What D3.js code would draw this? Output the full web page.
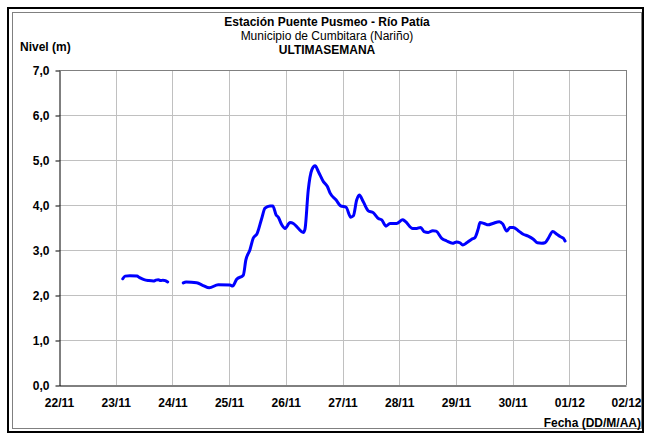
<!DOCTYPE html>
<html>
<head>
<meta charset="utf-8">
<style>
  body { margin: 0; background: #fff; }
  svg { display: block; font-family: "Liberation Sans", Arial, sans-serif; }
</style>
</head>
<body>
<svg width="648" height="434"></svg>
<script src="https://d3js.org/d3.v7.min.js"></script>
<script>

// horas desde el 22/11 00:00, nivel en metros (null = sin dato)
var horas = [27, 28, 30, 33, 34, 36, 38, 40, 41, 42, 43, 44, 45, 46,
  49,
  52.6, 53.8, 58.3, 61, 63.6, 67.4, 72.4, 73.5, 75.2, 78, 79.1, 80.8,
  82.2, 83.9, 85.8, 87.2, 89.3, 90.5, 91.9, 92.8, 94.3, 95.7, 97.8, 99.2,
  101.3, 103.4, 104.1, 105.5, 107, 108.4, 109.8, 111.9, 113.6, 114.7, 117.3,
  119.2, 121.5, 123.5, 124.6, 126, 127.1, 128.8, 130.9, 133, 135.2, 136.6,
  138.4, 140.1, 142.9, 145.5, 146.5, 149.7, 151.4, 153.1, 154.5, 156.3,
  158.2, 159.6, 162, 164.1, 166.6, 168.3, 169.7, 170.9, 172.6, 174.7, 176.1,
  177.5, 178.2, 179.9, 181.7, 183.6, 186.4, 187.8, 189.5, 190.9, 192.3,
  194.4, 196.5, 198.6, 200.8, 202.5, 204.3, 205.7, 207.1, 209, 210.7, 212.1,
  213.5, 214.2];
var nivel = [2.36, 2.42, 2.43, 2.42, 2.39, 2.34, 2.32, 2.31, 2.33, 2.34, 2.32, 2.33, 2.32, 2.29,
  null,
  2.27, 2.29, 2.27, 2.21, 2.16, 2.23, 2.22, 2.20, 2.35, 2.44, 2.78, 3.0,
  3.26, 3.37, 3.70, 3.93, 3.98, 3.98, 3.78, 3.73, 3.56, 3.48, 3.61, 3.59,
  3.48, 3.39, 3.46, 4.33, 4.78, 4.87, 4.74, 4.52, 4.41, 4.27, 4.11,
  3.98, 3.95, 3.73, 3.76, 4.11, 4.22, 4.07, 3.87, 3.83, 3.70, 3.67,
  3.53, 3.59, 3.59, 3.67, 3.64, 3.48, 3.48, 3.50, 3.41, 3.39,
  3.43, 3.42, 3.26, 3.20, 3.15, 3.18, 3.16, 3.11, 3.16, 3.24, 3.28,
  3.48, 3.61, 3.59, 3.56, 3.59, 3.63, 3.58, 3.42, 3.50, 3.50,
  3.43, 3.35, 3.31, 3.24, 3.16, 3.15, 3.16, 3.26, 3.41, 3.35, 3.30,
  3.26, 3.20];

var xLabels = ["22/11", "23/11", "24/11", "25/11", "26/11", "27/11",
  "28/11", "29/11", "30/11", "01/12", "02/12"];
var yTicks = [0, 1, 2, 3, 4, 5, 6, 7];

var svg = d3.select("svg");

var margin = {left: 59, right: 626, top: 70, bottom: 385};
var start = new Date(2013, 10, 22);

var x = d3.scaleTime()
    .domain([start, d3.timeDay.offset(start, 10)])
    .range([margin.left, margin.right]);

var y = d3.scaleLinear()
    .domain([0, 7])
    .range([margin.bottom, margin.top]);

var dias = xLabels.map(function(d, i) { return d3.timeDay.offset(start, i); });

var data = horas.map(function(h, i) {
  return {t: d3.timeMinute.offset(start, Math.round(h * 60)), v: nivel[i]};
});

// marcos exteriores
svg.append("rect")
    .attr("x", 8).attr("y", 8).attr("width", 635).attr("height", 424)
    .attr("fill", "none").attr("stroke", "#000").attr("stroke-width", 2);
svg.append("rect")
    .attr("x", 12.5).attr("y", 12.5).attr("width", 629).attr("height", 416)
    .attr("fill", "none").attr("stroke", "#808080").attr("stroke-width", 1);

// rejilla
svg.append("g").selectAll("line")
    .data(dias.slice(1))
    .enter().append("line")
      .attr("x1", function(d) { return Math.round(x(d)) + 0.5; })
      .attr("x2", function(d) { return Math.round(x(d)) + 0.5; })
      .attr("y1", margin.top).attr("y2", margin.bottom)
      .attr("stroke", function(d, i) { return i == dias.length - 2 ? "#808080" : "#c0c0c0"; });

svg.append("g").selectAll("line")
    .data(yTicks.slice(1))
    .enter().append("line")
      .attr("x1", margin.left).attr("x2", margin.right)
      .attr("y1", function(d) { return Math.round(y(d)) + 0.5; })
      .attr("y2", function(d) { return Math.round(y(d)) + 0.5; })
      .attr("stroke", function(d) { return d == 7 ? "#808080" : "#c0c0c0"; });

// ejes
var yAxis = svg.append("g")
    .attr("transform", "translate(" + (margin.left + 0.5) + ",0.5)")
    .call(d3.axisLeft(y)
      .tickValues(yTicks)
      .tickSize(4)
      .tickPadding(6)
      .tickSizeOuter(0)
      .tickFormat(function(d) { return d3.format(".1f")(d).replace(".", ","); }));

var xAxis = svg.append("g")
    .attr("transform", "translate(0," + (margin.bottom + 0.5) + ")")
    .call(d3.axisBottom(x)
      .tickValues(dias)
      .tickSize(0)
      .tickSizeOuter(0)
      .tickPadding(13)
      .tickFormat(function(d, i) { return xLabels[i]; }));

svg.selectAll(".tick text")
    .attr("font-family", "Liberation Sans, Arial, sans-serif")
    .attr("font-size", 12)
    .attr("font-weight", "bold")
    .attr("fill", "#000");
svg.selectAll(".domain").attr("stroke", "#000");

// serie
var line = d3.line()
    .defined(function(d) { return d.v != null; })
    .x(function(d) { return x(d.t); })
    .y(function(d) { return y(d.v); })
    .curve(d3.curveMonotoneX);

svg.append("path")
    .datum(data)
    .attr("fill", "none")
    .attr("stroke", "#0000ff")
    .attr("stroke-width", 3)
    .attr("stroke-linejoin", "round")
    .attr("stroke-linecap", "round")
    .attr("d", line);

// textos
svg.append("text")
    .attr("x", 327).attr("y", 26)
    .attr("text-anchor", "middle")
    .attr("font-size", 12).attr("font-weight", "bold")
    .text("Estación Puente Pusmeo - Río Patía");
svg.append("text")
    .attr("x", 327).attr("y", 40)
    .attr("text-anchor", "middle")
    .attr("font-size", 12)
    .text("Municipio de Cumbitara (Nariño)");
svg.append("text")
    .attr("x", 327).attr("y", 54)
    .attr("text-anchor", "middle")
    .attr("font-size", 12).attr("font-weight", "bold")
    .text("ULTIMASEMANA");

svg.append("text")
    .attr("x", 20).attr("y", 51)
    .attr("font-size", 12).attr("font-weight", "bold")
    .text("Nivel (m)");

svg.append("text")
    .attr("x", 641).attr("y", 427)
    .attr("text-anchor", "end")
    .attr("font-size", 12).attr("font-weight", "bold")
    .text("Fecha (DD/M/AA)");

</script>
</body>
</html>
